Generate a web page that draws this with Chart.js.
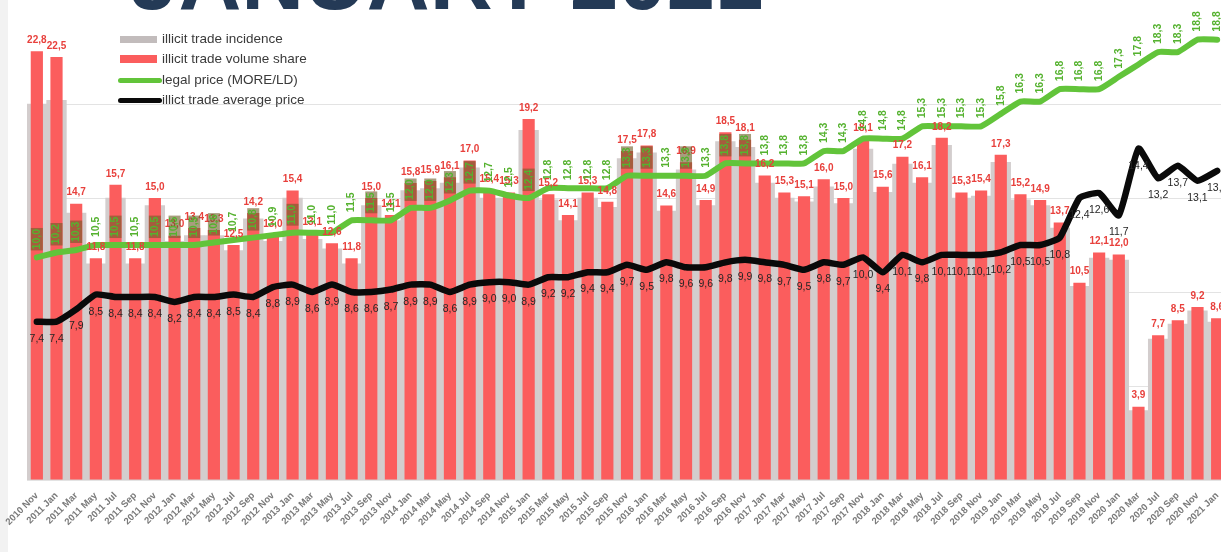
<!DOCTYPE html>
<html>
<head>
<meta charset="utf-8">
<script src="https://cdn.jsdelivr.net/npm/chart.js@4.4.1/dist/chart.umd.min.js"></script>
<style>
  html, body { margin: 0; padding: 0; background: #fff; overflow: hidden; }
  #wrap { position: relative; width: 1221px; height: 552px; overflow: hidden; }
  #strip { position: absolute; left: 0; top: 0; width: 8px; height: 552px; background: #f2f2f2; }
  #chart { position: absolute; left: 0; top: 0; }
  #title { position: absolute; left: 130px; top: -65px; font: bold 87px "Liberation Sans", Arial, sans-serif;
           line-height: 87px; color: #243a56; white-space: nowrap; }
  .lg { position: absolute; left: 118px; font: 13.5px "Liberation Sans", Arial, sans-serif; color: #3a3a3a;
        white-space: nowrap; height: 20px; line-height: 20px; }
  .lg i { display: inline-block; vertical-align: middle; margin-right: 5px; }
</style>
</head>
<body>
<div id="wrap">
  <div id="strip"></div>
  <canvas id="chart" width="1240" height="552"></canvas>
  <div id="title">JANUARY 2021</div>
  <div class="lg" style="top:29px"><i style="width:37px;height:7px;background:#c2bcbc;margin-left:2px"></i>illicit trade incidence</div>
  <div class="lg" style="top:49px"><i style="width:37px;height:8px;background:#fb5d5d;margin-left:2px"></i>illicit trade volume share</div>
  <div class="lg" style="top:70px"><i style="width:44px;height:5px;background:#62c43a;border-radius:3px;margin-right:0"></i>legal price (MORE/LD)</div>
  <div class="lg" style="top:90px"><i style="width:44px;height:5px;background:#0a0a0a;border-radius:3px;margin-right:0"></i>illict trade average price</div>
</div>
<script>
const labels = [
  '2010 Nov',
  '2011 Jan', '2011 Mar', '2011 May', '2011 Jul', '2011 Sep', '2011 Nov',
  '2012 Jan', '2012 Mar', '2012 May', '2012 Jul', '2012 Sep', '2012 Nov',
  '2013 Jan', '2013 Mar', '2013 May', '2013 Jul', '2013 Sep', '2013 Nov',
  '2014 Jan', '2014 Mar', '2014 May', '2014 Jul', '2014 Sep', '2014 Nov',
  '2015 Jan', '2015 Mar', '2015 May', '2015 Jul', '2015 Sep', '2015 Nov',
  '2016 Jan', '2016 Mar', '2016 May', '2016 Jul', '2016 Sep', '2016 Nov',
  '2017 Jan', '2017 Mar', '2017 May', '2017 Jul', '2017 Sep', '2017 Nov',
  '2018 Jan', '2018 Mar', '2018 May', '2018 Jul', '2018 Sep', '2018 Nov',
  '2019 Jan', '2019 Mar', '2019 May', '2019 Jul', '2019 Sep', '2019 Nov',
  '2020 Jan', '2020 Mar', '2020 Jul', '2020 Sep', '2020 Nov', '2021 Jan'
];

// illicit trade incidence (grey bars)
const incidence = [
  20.0, 20.2, 14.2, 11.5, 15.0, 11.5, 14.6, 12.7, 13.0, 13.0,
  12.2, 13.9, 12.7, 15.0, 12.8, 12.3, 11.5, 14.6, 13.8, 15.4,
  15.5, 15.8, 16.6, 15.0, 15.0, 18.6, 14.9, 13.8, 15.0, 14.5,
  17.1, 17.4, 14.3, 16.5, 14.6, 18.0, 17.7, 15.8, 15.0, 14.8,
  15.6, 14.7, 17.6, 15.3, 16.8, 15.8, 17.8, 15.0, 15.1, 16.9,
  14.9, 14.6, 13.4, 10.3, 11.8, 11.7, 3.7, 7.5, 8.3, 9.0, 8.4
];

// illicit trade volume share (red bars)
const volumeShare = [
  22.8, 22.5, 14.7, 11.8, 15.7, 11.8, 15.0, 13.0, 13.4, 13.3,
  12.5, 14.2, 13.0, 15.4, 13.1, 12.6, 11.8, 15.0, 14.1, 15.8,
  15.9, 16.1, 17.0, 15.4, 15.3, 19.2, 15.2, 14.1, 15.3, 14.8,
  17.5, 17.8, 14.6, 16.9, 14.9, 18.5, 18.1, 16.2, 15.3, 15.1,
  16.0, 15.0, 18.1, 15.6, 17.2, 16.1, 18.2, 15.3, 15.4, 17.3,
  15.2, 14.9, 13.7, 10.5, 12.1, 12.0, 3.9, 7.7, 8.5, 9.2, 8.6
];

// legal price (MORE/LD)
const legalPrice = [
  10.0, 10.2, 10.3, 10.5, 10.5, 10.5, 10.5, 10.5, 10.5, 10.6,
  10.7, 10.8, 10.9, 11.0, 11.0, 11.0, 11.5, 11.5, 11.5, 12.0,
  12.0, 12.3, 12.7, 12.7, 12.5, 12.4, 12.8, 12.8, 12.8, 12.8,
  13.3, 13.3, 13.3, 13.3, 13.3, 13.8, 13.8, 13.8, 13.8, 13.8,
  14.3, 14.3, 14.8, 14.8, 14.8, 15.3, 15.3, 15.3, 15.3, 15.8,
  16.3, 16.3, 16.8, 16.8, 16.8, 17.3, 17.8, 18.3, 18.3, 18.8, 18.8
];

// illicit trade average price
const illicitPrice = [
  7.4, 7.4, 7.9, 8.5, 8.4, 8.4, 8.4, 8.2, 8.4, 8.4,
  8.5, 8.4, 8.8, 8.9, 8.6, 8.9, 8.6, 8.6, 8.7, 8.9,
  8.9, 8.6, 8.9, 9.0, 9.0, 8.9, 9.2, 9.2, 9.4, 9.4,
  9.7, 9.5, 9.8, 9.6, 9.6, 9.8, 9.9, 9.8, 9.7, 9.5,
  9.8, 9.7, 10.0, 9.4, 10.1, 9.8, 10.1, 10.1, 10.1, 10.2,
  10.5, 10.5, 10.8, 12.4, 12.6, 11.7, 14.4, 13.2, 13.7, 13.1, 13.5
];

const FONT = '"Liberation Sans", Arial, sans-serif';
const fmt = v => v.toFixed(1).replace('.', ',');

// value labels drawn on top of everything
const valueLabels = {
  id: 'valueLabels',
  afterDatasetsDraw(chart) {
    const ctx = chart.ctx;
    const bars = chart.getDatasetMeta(1).data;
    ctx.save();

    ctx.font = 'bold 10px ' + FONT;
    ctx.fillStyle = '#e8403c';
    ctx.textAlign = 'center';
    ctx.textBaseline = 'bottom';
    bars.forEach((b, i) => ctx.fillText(fmt(volumeShare[i]), b.x, b.y - 6));

    ctx.font = '10.5px ' + FONT;
    ctx.fillStyle = '#262626';
    ctx.textBaseline = 'top';
    chart.getDatasetMeta(3).data.forEach((p, i) => ctx.fillText(fmt(illicitPrice[i]), p.x, p.y + 12));

    ctx.font = 'bold 10.5px ' + FONT;
    chart.getDatasetMeta(2).data.forEach((p, i) => {
      const txt = fmt(legalPrice[i]);
      const w = ctx.measureText(txt).width;
      const bottom = p.y - 8;
      ctx.save();
      if (bars[i].y < bottom) {
        ctx.fillStyle = 'rgba(110,92,40,0.6)';
        ctx.fillRect(p.x - 6, bottom - w - 1, 12, w + 2);
      }
      ctx.translate(p.x, bottom);
      ctx.rotate(-Math.PI / 2);
      ctx.fillStyle = '#55b22f';
      ctx.textAlign = 'left';
      ctx.textBaseline = 'middle';
      ctx.fillText(txt, 0, 0);
      ctx.restore();
    });
    ctx.restore();
  }
};

new Chart(document.getElementById('chart'), {
  data: {
    labels: labels,
    datasets: [
      {
        type: 'bar', label: 'illicit trade incidence', data: incidence, yAxisID: 'y',
        backgroundColor: '#d3cdcd', grouped: false, barPercentage: 1.0, categoryPercentage: 1.0, order: 3
      },
      {
        type: 'bar', label: 'illicit trade volume share', data: volumeShare, yAxisID: 'y',
        backgroundColor: '#fb5d5d', grouped: false, barPercentage: 0.62, categoryPercentage: 1.0, order: 2
      },
      {
        type: 'line', label: 'legal price (MORE/LD)', data: legalPrice, yAxisID: 'y2',
        borderColor: '#62c43a', borderWidth: 6, pointRadius: 0, tension: 0.15,
        borderJoinStyle: 'round', borderCapStyle: 'round', order: 1
      },
      {
        type: 'line', label: 'illict trade average price', data: illicitPrice, yAxisID: 'y2',
        borderColor: '#0a0a0a', borderWidth: 6.5, pointRadius: 0, tension: 0.15,
        borderJoinStyle: 'round', borderCapStyle: 'round', order: 0
      }
    ]
  },
  options: {
    responsive: false,
    animation: false,
    layout: { padding: { left: 27, right: 13, top: 10, bottom: 22 } },
    plugins: { legend: { display: false }, tooltip: { enabled: false } },
    scales: {
      x: {
        offset: true,
        grid: { display: false },
        border: { display: false },
        ticks: {
          autoSkip: false, maxRotation: 45, minRotation: 45, padding: 2,
          color: '#7a7a7a', font: { family: FONT, size: 9.5, weight: 'bold' }
        }
      },
      y: {
        min: 0, max: 25,
        ticks: { display: false, stepSize: 5 },
        border: { display: false },
        grid: { color: ctx => (ctx.tick.value === 25 ? 'rgba(0,0,0,0)' : '#e3e3e3'), drawTicks: false }
      },
      y2: { min: 1, max: 20, display: false }
    }
  },
  plugins: [valueLabels]
});
</script>
</body>
</html>
